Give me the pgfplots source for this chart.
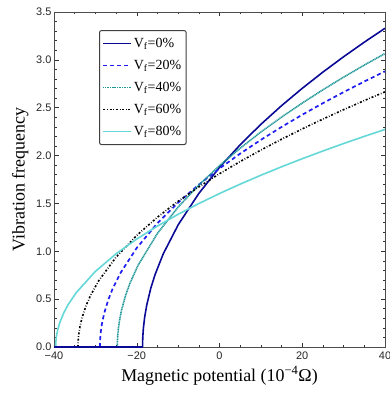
\documentclass[border=0pt]{standalone}
\usepackage{fontspec}
\setmainfont{Liberation Serif}
\newfontfamily\tsans{Liberation Sans}
\usepackage{pgfplots}
\pgfplotsset{compat=1.18}
\definecolor{cnavy}{RGB}{10,10,150}
\definecolor{cblue}{RGB}{30,30,240}
\definecolor{cteal}{RGB}{30,150,150}
\definecolor{ccyan}{RGB}{100,215,215}
\begin{document}
\begin{tikzpicture}
\begin{axis}[
  name=ax,
  scale only axis,
  width=331bp, height=335bp,
  xmin=-40, xmax=40, ymin=0, ymax=3.5,
  xtick={-40,-20,0,20,40},
  xticklabels={−40,−20,0,20,40},
  minor x tick num=3,
  ytick={0,0.5,1,1.5,2,2.5,3,3.5},
  yticklabels={0.0,0.5,1.0,1.5,2.0,2.5,3.0,3.5},
  minor y tick num=4,
  tick align=inside,
  major tick length=4.5bp,
  minor tick length=2.5bp,
  tick style={black!80, line width=0.5pt},
  axis line style={black!70, line width=0.6pt},
  ticklabel style={font=\tsans\fontsize{11}{13}\selectfont, text=black!85},
  xticklabel style={yshift=-1.5bp},
  yticklabel style={xshift=1bp},
  xlabel={Magnetic potential (10\textsuperscript{−4}Ω)},
  ylabel={Vibration frequency},
  label style={font=\fontsize{18}{20}\selectfont},
  xlabel style={yshift=0bp},
  ylabel style={yshift=1bp},
  legend cell align=left,
  legend style={at={(0.136,0.946)}, anchor=north west,
    draw=black!75, line width=1pt, rounded corners=2pt,
    font=\fontsize{14}{16}\selectfont,
    inner xsep=3bp, inner ysep=5.5bp, row sep=7.3bp,
    /tikz/every even column/.append style={column sep=2bp}},
]
\addplot[cnavy, line width=1.6pt,
  legend image code/.code={\draw[cnavy, line width=1.4pt, rounded corners=0pt] (0bp,0bp) -- (28bp,0bp);}] coordinates {
(-18.6,0) (-18.55,0.0973) (-18.4,0.1945) (-18.1,0.3076) (-17.6,0.435)
(-16.6,0.6152) (-15.6,0.7534) (-13.6,0.9727) (-10,1.2757) (-5,1.6042)
(0,1.8761) (5,2.1132) (10,2.3263) (15,2.5215) (20,2.7026) (25,2.8723)
(30,3.0326) (35,3.1847) (40,3.33)};
\addlegendentry{V\textsubscript{f}=0\%}
\addplot[cblue, line width=1.7pt, dash pattern=on 4bp off 3bp,
  legend image code/.code={\draw[cblue, line width=1.4pt, dash pattern=on 4bp off 3bp, rounded corners=0pt] (0bp,0bp) -- (28bp,0bp);}] coordinates {
(-28.9,0) (-28.85,0.0776) (-28.7,0.1552) (-28.4,0.2454) (-27.9,0.347)
(-26.9,0.4907) (-25.9,0.601) (-23.9,0.7759) (-20,1.0352) (-15,1.2937)
(-10,1.5086) (-5,1.6964) (0,1.8654) (5,2.0204) (10,2.1642) (15,2.2991)
(20,2.4265) (25,2.5476) (30,2.6631) (35,2.7738) (40,2.8803)};
\addlegendentry{V\textsubscript{f}=20\%}
\addplot[cteal, line width=1.6pt, dash pattern=on 1.1bp off 0.6bp,
  legend image code/.code={\draw[cteal, line width=1.4pt, dash pattern=on 1.1bp off 0.6bp, rounded corners=0pt] (0bp,0bp) -- (28bp,0bp);}] coordinates {
(-24.7,0) (-24.65,0.0852) (-24.5,0.1705) (-24.2,0.2696) (-23.7,0.3812)
(-22.7,0.5391) (-21.7,0.6603) (-19.7,0.8524) (-15,1.1873) (-10,1.4616)
(-5,1.692) (0,1.8945) (5,2.0775) (10,2.2455) (15,2.4019) (20,2.5486)
(25,2.6874) (30,2.8193) (35,2.9454) (40,3.0662)};
\addlegendentry{V\textsubscript{f}=40\%}
\addplot[black, line width=1.6pt, dash pattern=on 2bp off 1.8bp on 0.7bp off 1.8bp,
  legend image code/.code={\draw[black, line width=1.4pt, dash pattern=on 2bp off 1.8bp on 0.7bp off 1.8bp, rounded corners=0pt] (0bp,0bp) -- (28bp,0bp);}] coordinates {
(-34.2,0) (-34.15,0.0692) (-34.0,0.1384) (-33.7,0.2188) (-33.2,0.3095)
(-32.2,0.4377) (-31.2,0.5361) (-29.2,0.6921) (-25,0.9388) (-20,1.1663)
(-15,1.3562) (-10,1.5225) (-5,1.6724) (0,1.81) (5,1.9378) (10,2.0577)
(15,2.1709) (20,2.2786) (25,2.3814) (30,2.4799) (35,2.5746) (40,2.666)};
\addlegendentry{V\textsubscript{f}=60\%}
\addplot[ccyan, line width=1.6pt,
  legend image code/.code={\draw[ccyan, line width=1.4pt, rounded corners=0pt] (0bp,0bp) -- (28bp,0bp);}] coordinates {
(-39.6,0) (-39.55,0.057) (-39.4,0.1139) (-39.1,0.1802) (-38.6,0.2548)
(-37.6,0.3603) (-36.6,0.4413) (-34.6,0.5698) (-30,0.7895) (-25,0.9736)
(-20,1.128) (-15,1.2638) (-10,1.3863) (-5,1.4988) (0,1.6034) (5,1.7016)
(10,1.7945) (15,1.8828) (20,1.9671) (25,2.0479) (30,2.1257) (35,2.2007)
(40,2.2733)};
\addlegendentry{V\textsubscript{f}=80\%}
\addplot[cnavy, line width=1.2pt, forget plot] coordinates {(-40,0) (-18.6,0)};
\end{axis}
\pgfresetboundingbox
\path ([xshift=-54bp,yshift=-47bp]ax.south west) rectangle ([xshift=5bp,yshift=12bp]ax.north east);
\end{tikzpicture}
\end{document}
